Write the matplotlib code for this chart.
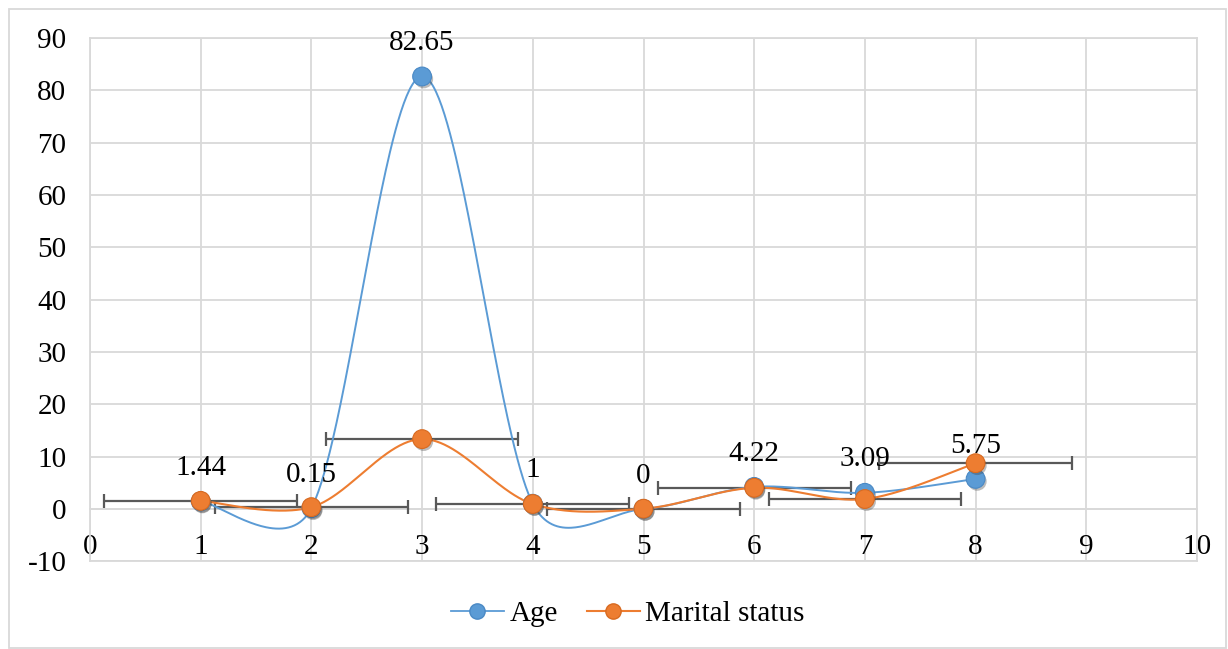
import numpy as np
import matplotlib
matplotlib.use("Agg")
import matplotlib.pyplot as plt
import matplotlib.patheffects as pe
from matplotlib.patches import Rectangle
from matplotlib.lines import Line2D

plt.rcParams['font.family'] = ['Liberation Serif', 'DejaVu Serif']
plt.rcParams['axes.unicode_minus'] = False

x_vals = [1, 2, 3, 4, 5, 6, 7, 8]
age = [1.44, 0.15, 82.65, 1, 0, 4.22, 3.09, 5.75]
marital = [1.55, 0.35, 13.35, 0.95, 0.05, 4.05, 1.9, 8.75]
marital_xerr = 0.87
age_labels = ["1.44", "0.15", "82.65", "1", "0", "4.22", "3.09", "5.75"]
xticks = list(range(0, 11))
yticks = list(range(-10, 100, 10))

BLUE = "#5B9BD5"
ORANGE = "#ED7D31"
GRID = "#D9D9D9"
FS = 21

W, H = 1228, 649
fig = plt.figure(figsize=(W / 100, H / 100), dpi=100)
ax = fig.add_axes([90 / W, 1 - 561.3 / H, (1197 - 90) / W, (561.3 - 38) / H])
ax.set_xlim(0, 10)
ax.set_ylim(-10, 90)
ax.set_xticks(xticks)
ax.set_yticks(yticks)
ax.grid(True, color=GRID, linewidth=1.3, zorder=0)
ax.set_axisbelow(True)
for s in ax.spines.values():
    s.set_color(GRID)
    s.set_linewidth(1.3)
ax.spines['bottom'].set_position(('data', 0))
ax.axhline(-10, color=GRID, linewidth=1.3, zorder=0.5, clip_on=False)
ax.tick_params(axis='both', length=0, labelsize=FS, colors='black')
ax.tick_params(axis='y', pad=17)
ax.tick_params(axis='x', pad=18)


def excel_smooth(xs, ys, n=80):
    """Excel-style smoothed line: cubic Bezier segments with control arms of
    1/6 of the neighbour chord, limited to half of the segment length."""
    pts = ax.transData.transform(np.column_stack([xs, ys]))
    m = len(pts)
    t = np.linspace(0, 1, n)[:, None]
    out = []
    for i in range(m - 1):
        p1, p2 = pts[i], pts[i + 1]
        p0 = pts[i - 1] if i > 0 else p1
        p3 = pts[i + 2] if i + 2 < m else p2
        d12 = np.hypot(*(p2 - p1))
        d02 = np.hypot(*(p2 - p0))
        d13 = np.hypot(*(p3 - p1))
        f1 = 1 / 6 if d02 / 6 < d12 / 2 else d12 / (2 * d02)
        f2 = 1 / 6 if d13 / 6 < d12 / 2 else d12 / (2 * d13)
        c1 = p1 + (p2 - p0) * f1
        c2 = p2 - (p3 - p1) * f2
        seg = ((1 - t) ** 3 * p1 + 3 * (1 - t) ** 2 * t * c1
               + 3 * (1 - t) * t ** 2 * c2 + t ** 3 * p2)
        out.append(seg if i == 0 else seg[1:])
    out = np.vstack(out)
    return ax.transData.inverted().transform(out)

fig.canvas.draw()
sa = excel_smooth(x_vals, age)
sm = excel_smooth(x_vals, marital)

shadow = [pe.SimplePatchShadow(offset=(1.2, -1.8), alpha=0.35, shadow_rgbFace='#404040'), pe.Normal()]

ax.errorbar(x_vals, marital, xerr=marital_xerr, fmt='none', ecolor="#595959",
            elinewidth=1.6, capsize=5, capthick=1.6, zorder=2.7)
ax.plot(sa[:, 0], sa[:, 1], color=BLUE, linewidth=1.4, zorder=3)
ax.plot(sm[:, 0], sm[:, 1], color=ORANGE, linewidth=1.5, zorder=3)
ax.plot(x_vals, age, linestyle='none', marker='o', markersize=13.5,
        markerfacecolor=BLUE, markeredgecolor="#4A89C5", markeredgewidth=0.8,
        zorder=4, path_effects=shadow)
ax.plot(x_vals, marital, linestyle='none', marker='o', markersize=13.5,
        markerfacecolor=ORANGE, markeredgecolor="#D86A20", markeredgewidth=0.8,
        zorder=5, path_effects=shadow)

for xv, yv, lab in zip(x_vals, age, age_labels):
    ax.annotate(lab, (xv, yv), xytext=(0, 24), textcoords='offset points',
                ha='center', va='center', fontsize=FS, zorder=6)

handles = [
    Line2D([], [], color=BLUE, linewidth=1.3, marker='o', markersize=11,
           markerfacecolor=BLUE, markeredgecolor="#4A89C5"),
    Line2D([], [], color=ORANGE, linewidth=1.5, marker='o', markersize=11,
           markerfacecolor=ORANGE, markeredgecolor="#D86A20"),
]
fig.legend(handles, ["Age", "Marital status"], loc='center',
           bbox_to_anchor=(628 / W, 1 - 614 / H), ncol=2, frameon=False,
           fontsize=FS, handlelength=1.8, handletextpad=0.2, columnspacing=1.0)

fig.patches.append(Rectangle((9 / W, 1 / H), (1226 - 9) / W, (640 - 1) / H,
                             transform=fig.transFigure, fill=False,
                             edgecolor=GRID, linewidth=1.3))

fig.savefig("out.png", dpi=100)
